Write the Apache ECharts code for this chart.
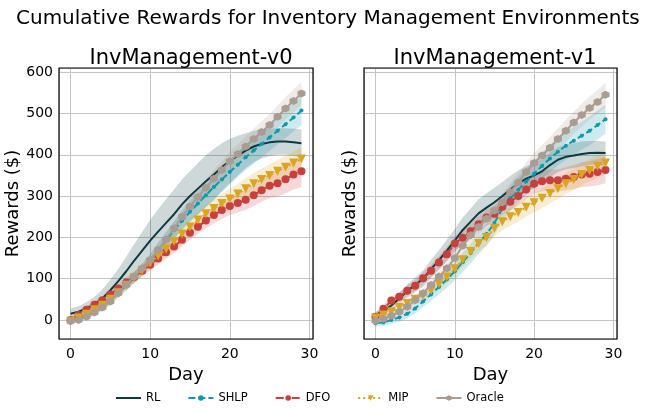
<!DOCTYPE html>
<html>
<head>
<meta charset="utf-8">
<script src="https://cdn.jsdelivr.net/npm/echarts@6/dist/echarts.min.js"></script>
<style>
  html, body { margin: 0; padding: 0; background: #fff; }
  #chart { width: 650px; height: 416px; }
</style>
</head>
<body>
<div id="chart"></div>
<script>
// days 0..29
var days = [0,1,2,3,4,5,6,7,8,9,10,11,12,13,14,15,16,17,18,19,20,21,22,23,24,25,26,27,28,29];
var methods = ['RL', 'SHLP', 'DFO', 'MIP', 'Oracle'];
var panelTitles = ['InvManagement-v0', 'InvManagement-v1'];

// InvManagement-v0 (mean cumulative reward)
var rlV0     = [15,20,28,38,52,72,94,118,144,168,192,214,235,256,280,300,318,336,352,370,385,398,410,420,426,430,432,432,430,428];
var shlpV0   = [-3,2,10,20,32,47,65,83,102,122,145,170,193,217,240,262,282,302,322,340,358,376,394,410,426,442,458,474,490,507];
var dfoV0    = [0,12,25,37,48,62,76,91,104,119,134,149,164,178,194,211,226,241,254,266,276,283,291,302,314,325,331,341,352,360];
var mipV0    = [-3,5,14,25,36,50,66,84,102,120,138,155,172,190,208,225,242,257,270,282,293,305,318,330,340,350,360,370,380,390];
var oracleV0 = [-3,0,8,18,30,45,65,85,105,125,145,170,195,222,250,275,298,320,342,363,384,402,420,438,455,472,492,512,530,548];

// InvManagement-v0 (spread of shaded band)
var rlSdV0     = [12,13,15,18,22,26,30,35,40,45,50,54,57,60,60,60,62,63,62,58,54,48,42,38,35,33,32,32,33,34];
var shlpSdV0   = [5,6,7,8,9,10,11,12,13,14,16,18,20,22,24,26,27,28,29,30,30,30,31,32,32,33,33,34,34,35];
var dfoSdV0    = [6,7,8,9,10,11,12,13,14,14,15,15,15,16,16,17,18,19,20,21,22,23,24,26,28,30,32,34,36,38];
var mipSdV0    = [5,6,7,8,9,10,11,12,13,14,15,16,17,18,19,20,21,22,23,24,24,25,25,26,26,27,27,28,28,28];
var oracleSdV0 = [4,5,6,7,8,9,10,11,12,13,14,15,16,17,18,19,20,21,22,22,23,24,24,25,26,26,27,27,28,28];

// InvManagement-v1 (mean cumulative reward)
var rlV1     = [12,22,35,52,70,85,100,123,145,168,192,218,238,258,272,285,300,316,330,342,350,360,375,388,395,398,402,404,405,404];
var shlpV1   = [-8,-6,0,6,15,28,45,62,80,98,118,140,162,186,208,235,270,295,315,335,354,373,391,407,422,434,446,458,472,486];
var dfoV1    = [8,27,47,56,71,83,101,119,139,159,185,199,215,232,248,257,274,286,300,316,330,336,338,338,342,346,352,354,358,363];
var mipV1    = [5,12,20,30,40,50,60,72,88,104,124,146,166,185,200,222,238,250,260,273,284,295,306,318,330,340,352,362,372,380];
var oracleV1 = [-2,3,10,20,32,48,65,85,105,125,150,180,205,225,245,265,285,310,333,358,380,398,417,438,458,478,496,513,528,545];

// InvManagement-v1 (spread of shaded band)
var rlSdV1     = [8,10,12,14,16,18,20,22,24,26,28,30,32,34,35,35,34,33,32,31,30,30,30,30,30,30,30,29,28,28];
var shlpSdV1   = [8,8,9,10,11,12,14,16,18,20,22,24,25,26,27,28,29,30,31,32,32,33,33,33,34,34,34,35,35,35];
var dfoSdV1    = [8,9,10,11,12,13,14,15,16,17,18,19,20,20,20,20,20,21,22,23,24,25,26,27,28,29,30,31,32,32];
var mipSdV1    = [6,7,8,9,10,11,12,13,14,15,16,17,18,19,20,20,21,22,22,23,23,24,24,25,25,26,26,27,27,27];
var oracleSdV1 = [5,6,7,8,9,10,11,12,13,14,15,16,17,18,19,20,21,22,23,24,25,25,26,26,27,27,28,28,29,30];

var means = [
  [rlV0, shlpV0, dfoV0, mipV0, oracleV0],
  [rlV1, shlpV1, dfoV1, mipV1, oracleV1]
];
var spreads = [
  [rlSdV0, shlpSdV0, dfoSdV0, mipSdV0, oracleSdV0],
  [rlSdV1, shlpSdV1, dfoSdV1, mipSdV1, oracleSdV1]
];

var colors = ['#0b3b3f', '#0f98ab', '#c8403d', '#daa520', '#a89c93'];
var hexagon = 'path://M0,-10 L8.66,-5 L8.66,5 L0,10 L-8.66,5 L-8.66,-5 Z';
var styles = [
  { symbol: 'none', symbolSize: 0, type: 'solid' },
  { symbol: 'circle', symbolSize: 4, type: [7, 3] },
  { symbol: 'circle', symbolSize: 8, type: [8, 3, 2, 3] },
  { symbol: 'triangle', symbolSize: 9, type: [2, 3], rotate: 180 },
  { symbol: hexagon, symbolSize: 8, type: 'solid' }
];

var FONT = 'DejaVu Sans';

// shaded band: one polygon per series, upper edge then lower edge back
function bandSeries(p, m, bandData, color) {
  return {
    type: 'custom',
    xAxisIndex: p, yAxisIndex: p,
    renderItem: function (params, api) {
      if (params.dataIndex !== 0) return null;
      var pts = [];
      for (var i = 0; i < bandData.length; i++) pts.push(api.coord([bandData[i][0], bandData[i][2]]));
      for (var j = bandData.length - 1; j >= 0; j--) pts.push(api.coord([bandData[j][0], bandData[j][1]]));
      return { type: 'polygon', shape: { points: pts }, style: { fill: color, opacity: 0.2 } };
    },
    data: bandData,
    encode: { x: 0, y: [1, 2] },
    z: 2 + m,
    silent: true
  };
}

var series = [];
for (var p = 0; p < 2; p++) {
  for (var m = 0; m < methods.length; m++) {
    var mean = means[p][m], sd = spreads[p][m];
    var band = days.map(function (d, i) { return [d, mean[i] - sd[i], mean[i] + sd[i]]; });
    series.push(bandSeries(p, m, band, colors[m]));
  }
  for (var k = 0; k < methods.length; k++) {
    var st = styles[k];
    series.push({
      name: methods[k],
      type: 'line',
      xAxisIndex: p, yAxisIndex: p,
      data: days.map(function (d, i) { return [d, means[p][k][i]]; }),
      color: colors[k],
      symbol: st.symbol,
      symbolSize: st.symbolSize,
      symbolRotate: st.rotate || 0,
      showSymbol: st.symbol !== 'none',
      showAllSymbol: true,
      lineStyle: { width: 2, type: st.type, color: colors[k] },
      itemStyle: { color: colors[k], borderWidth: 0 },
      z: 10 + k
    });
  }
}

function xAxisFor(i) {
  return {
    type: 'value', gridIndex: i,
    min: -1.45, max: 30.45,
    minInterval: 10, maxInterval: 10, splitNumber: 3,
    name: 'Day', nameLocation: 'middle', nameGap: 22,
    nameTextStyle: { fontFamily: FONT, fontSize: 18, color: '#000' },
    axisLine: { show: false }, axisTick: { show: false },
    axisLabel: {
      fontFamily: FONT, fontSize: 14, color: '#000', margin: 8,
      showMinLabel: false, showMaxLabel: false,
      formatter: function (v) { return v % 10 === 0 ? String(v) : ''; }
    },
    splitLine: { show: true, lineStyle: { color: '#c4c4c4', width: 1 } }
  };
}

function yAxisFor(i) {
  return {
    type: 'value', gridIndex: i,
    min: -46, max: 610,
    minInterval: 100, maxInterval: 100,
    name: 'Rewards ($)', nameLocation: 'middle', nameGap: i === 0 ? 32 : 5,
    nameTextStyle: { fontFamily: FONT, fontSize: 18, color: '#000' },
    axisLine: { show: false }, axisTick: { show: false },
    axisLabel: {
      show: i === 0,
      fontFamily: FONT, fontSize: 14, color: '#000', margin: 6,
      showMinLabel: false, showMaxLabel: false,
      formatter: function (v) { return v % 100 === 0 ? String(v) : ''; }
    },
    splitLine: { show: true, lineStyle: { color: '#c4c4c4', width: 1 } }
  };
}

var legendData = methods.map(function (name, i) {
  return i === 0 ? { name: name, itemStyle: { opacity: 0 } } : { name: name };
});

var option = {
  animation: false,
  backgroundColor: '#fff',
  title: [
    { text: 'Cumulative Rewards for Inventory Management Environments', left: 11, top: 4,
      textStyle: { fontFamily: FONT, fontSize: 20, fontWeight: 'normal', color: '#000' } },
    { text: panelTitles[0], left: 186, top: 43, textAlign: 'center',
      textStyle: { fontFamily: FONT, fontSize: 21, fontWeight: 'normal', color: '#000' } },
    { text: panelTitles[1], left: 490, top: 43, textAlign: 'center',
      textStyle: { fontFamily: FONT, fontSize: 21, fontWeight: 'normal', color: '#000' } }
  ],
  legend: {
    data: legendData,
    left: 110, top: 387,
    itemWidth: 25, itemHeight: 7, itemGap: 27,
    textStyle: { fontFamily: FONT, fontSize: 11.5, color: '#000' }
  },
  grid: [
    { left: 59, top: 68, width: 254, height: 271, show: true, z: 1, borderColor: '#000', borderWidth: 1.2, backgroundColor: 'transparent' },
    { left: 364, top: 68, width: 253, height: 271, show: true, z: 1, borderColor: '#000', borderWidth: 1.2, backgroundColor: 'transparent' }
  ],
  xAxis: [xAxisFor(0), xAxisFor(1)],
  yAxis: [yAxisFor(0), yAxisFor(1)],
  series: series
};

var chart = echarts.init(document.getElementById('chart'));
chart.setOption(option);
</script>
</body>
</html>
